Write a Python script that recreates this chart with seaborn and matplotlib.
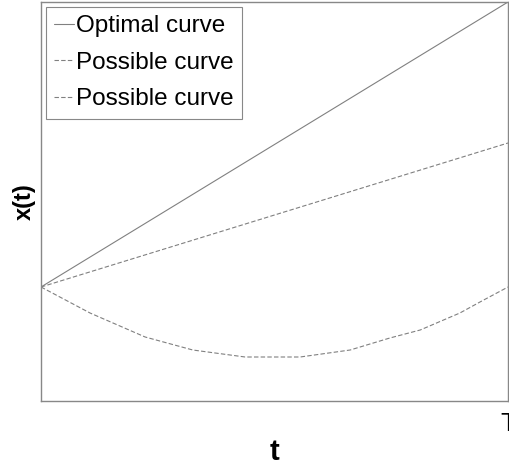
import matplotlib
matplotlib.use("Agg")
import matplotlib.pyplot as plt
import seaborn as sns
import pandas as pd

# Data
t_optimal = [0.0, 1.0]
x_optimal = [1.14, 3.99]

t_possible1 = [0.0, 0.25, 0.5, 0.75, 1.0]
x_possible1 = [1.14, 1.50, 1.86, 2.22, 2.58]

t_possible2 = [0.0, 0.105, 0.223, 0.325, 0.437, 0.555, 0.662, 0.747, 0.812, 0.897, 0.94, 1.0]
x_possible2 = [1.14, 0.88, 0.64, 0.51, 0.44, 0.44, 0.51, 0.63, 0.71, 0.88, 0.99, 1.14]

labels = ["Optimal curve", "Possible curve", "Possible curve"]
x_tick_values = [1.0]
x_tick_labels = ["T"]

sns.set_theme(style="white")
plt.rcParams['font.family'] = ['Liberation Sans', 'DejaVu Sans']
plt.rcParams['text.color'] = 'black'
plt.rcParams['axes.labelcolor'] = 'black'
plt.rcParams['xtick.color'] = 'black'

fig = plt.figure(figsize=(5.09, 4.66), dpi=100)
ax = fig.add_axes([41/509, 65/466, 467/509, 399/466])

line_color = "#808080"
sns.lineplot(x=t_optimal, y=x_optimal, ax=ax, color=line_color, linewidth=0.8,
             label=labels[0])
sns.lineplot(x=t_possible1, y=x_possible1, ax=ax, color=line_color, linewidth=0.8,
             label=labels[1], dashes=False)
sns.lineplot(x=t_possible2, y=x_possible2, ax=ax, color=line_color, linewidth=0.8,
             label=labels[2], dashes=False)
lines = ax.get_lines()
lines[1].set_dashes([4, 2])
lines[2].set_dashes([4, 2])

ax.set_xlim(0, 1)
ax.set_ylim(0, 3.99)
ax.set_xticks(x_tick_values)
ax.set_xticklabels(x_tick_labels, fontsize=19, color="black")
ax.set_yticks([])
ax.tick_params(axis='x', length=0, pad=8)
for sp in ax.spines.values():
    sp.set_color("#888888")
    sp.set_linewidth(1.0)

ax.set_xlabel("t", fontsize=21, fontweight="bold", labelpad=1, color="black")
ax.set_ylabel("x(t)", fontsize=17, fontweight="bold", labelpad=4, color="black")

leg = ax.legend(loc="upper left", fontsize=17.5, handlelength=0.8, handletextpad=0.12,
                labelspacing=0.6, borderpad=0.34, borderaxespad=0.2,
                fancybox=False, frameon=True, framealpha=1)
leg.get_frame().set_edgecolor("#888888")
leg.get_frame().set_linewidth(0.8)
for h in leg.get_lines():
    h.set_linewidth(0.8)
for txt in leg.get_texts():
    txt.set_color("black")

fig.savefig("out.png", dpi=100)
